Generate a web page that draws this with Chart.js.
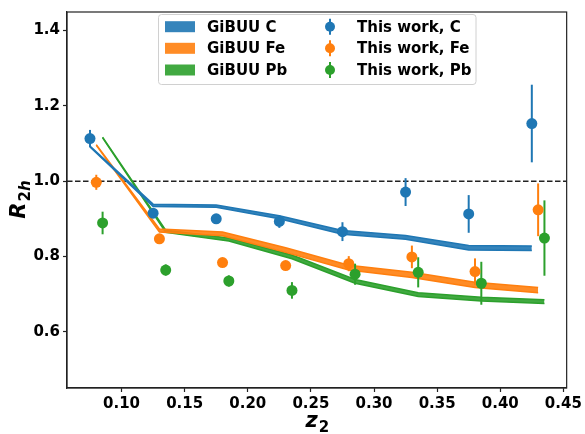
<!DOCTYPE html>
<html>
<head>
<meta charset="utf-8">
<script src="https://cdn.jsdelivr.net/npm/chart.js@4.4.1/dist/chart.umd.min.js"></script>
<style>
  body { margin: 0; background: #fff; }
</style>
</head>
<body>
<canvas id="r2h" width="585" height="434"></canvas>
<script>
// measured points (this work), x positions shifted a bit per target
const zC  = [0.075, 0.125, 0.175, 0.225, 0.275, 0.325, 0.375, 0.425];
const zFe = [0.080, 0.130, 0.180, 0.230, 0.280, 0.330, 0.380, 0.430];
const zPb = [0.085, 0.135, 0.185, 0.235, 0.285, 0.335, 0.385, 0.435];

const rC    = [1.113, 0.915, 0.900, 0.893, 0.866, 0.971, 0.913, 1.153];
const errC  = [0.023, 0.010, 0.010, 0.017, 0.025, 0.037, 0.050, 0.103];
const rFe   = [0.997, 0.847, 0.784, 0.776, 0.781, 0.799, 0.760, 0.924];
const errFe = [0.020, 0.008, 0.008, 0.008, 0.020, 0.030, 0.035, 0.070];
const rPb   = [0.889, 0.764, 0.735, 0.710, 0.753, 0.758, 0.729, 0.849];
const errPb = [0.030, 0.015, 0.015, 0.022, 0.028, 0.040, 0.057, 0.100];

// GiBUU bands (lower / upper edge)
const gibuuCLow   = [1.091, 0.933, 0.931, 0.900, 0.859, 0.846, 0.817, 0.816];
const gibuuCHigh  = [1.093, 0.939, 0.937, 0.908, 0.869, 0.856, 0.829, 0.828];
const gibuuFeLow  = [1.095, 0.865, 0.855, 0.811, 0.764, 0.744, 0.718, 0.704];
const gibuuFeHigh = [1.097, 0.873, 0.865, 0.823, 0.777, 0.758, 0.732, 0.718];
const gibuuPbLow  = [1.115, 0.864, 0.841, 0.794, 0.729, 0.694, 0.682, 0.675];
const gibuuPbHigh = [1.117, 0.870, 0.849, 0.804, 0.739, 0.704, 0.692, 0.685];

const xTicks = [0.10, 0.15, 0.20, 0.25, 0.30, 0.35, 0.40, 0.45];
const yTicks = [0.6, 0.8, 1.0, 1.2, 1.4];

const BLUE = '#1f77b4', ORANGE = '#ff7f0e', GREEN = '#2ca02c';
const FONT = 'DejaVu Sans';

Chart.defaults.font.family = FONT;

function pts(xs, ys) {
  return xs.map((x, i) => ({ x: x, y: ys[i] }));
}

function band(label, xs, low, high, color, fillColor) {
  return [
    { label: label + ' low', data: pts(xs, low), borderColor: color, borderWidth: 1.5,
      pointRadius: 0, fill: false, order: 2 },
    { label: label, data: pts(xs, high), borderColor: color, borderWidth: 1.5,
      pointRadius: 0, fill: '-1', backgroundColor: fillColor, order: 2 }
  ];
}

function points(label, xs, ys, err, color) {
  return { label: label, data: pts(xs, ys), err: err, showLine: false,
    borderColor: color, backgroundColor: color, pointRadius: 5.5,
    pointBorderWidth: 0, order: 0 };
}

// vertical error bars, drawn just before their points
const errorBars = {
  id: 'errorBars',
  beforeDatasetDraw(chart, args) {
    const ds = chart.data.datasets[args.index];
    if (!ds.err) return;
    const { ctx, scales: { x, y } } = chart;
    ctx.save();
    ctx.strokeStyle = ds.borderColor;
    ctx.lineWidth = 2;
    ds.data.forEach((p, i) => {
      const px = x.getPixelForValue(p.x);
      ctx.beginPath();
      ctx.moveTo(px, y.getPixelForValue(p.y - ds.err[i]));
      ctx.lineTo(px, y.getPixelForValue(p.y + ds.err[i]));
      ctx.stroke();
    });
    ctx.restore();
  }
};

// dashed reference line at 1
const unityLine = {
  id: 'unityLine',
  beforeDatasetsDraw(chart) {
    const { ctx, chartArea: a, scales: { y } } = chart;
    const py = y.getPixelForValue(1.0);
    ctx.save();
    ctx.strokeStyle = '#222';
    ctx.lineWidth = 1.5;
    ctx.setLineDash([5.5, 2.5]);
    ctx.beginPath();
    ctx.moveTo(a.left, py);
    ctx.lineTo(a.right, py);
    ctx.stroke();
    ctx.restore();
  }
};

// frame, axis titles and the two-column legend
const decorations = {
  id: 'decorations',
  afterDraw(chart) {
    const { ctx, chartArea: a } = chart;
    ctx.save();
    ctx.strokeStyle = '#222';
    ctx.lineWidth = 1.2;
    ctx.strokeRect(a.left, a.top, a.right - a.left, a.bottom - a.top);

    // x title: z_2
    ctx.fillStyle = '#000';
    ctx.textBaseline = 'alphabetic';
    ctx.font = 'italic bold 21px ' + FONT;
    const wz = ctx.measureText('z').width;
    ctx.font = 'bold 15px ' + FONT;
    const w2 = ctx.measureText('2').width;
    let x0 = (a.left + a.right) / 2 - (wz + w2) / 2;
    ctx.font = 'italic bold 21px ' + FONT;
    ctx.fillText('z', x0, 427);
    ctx.font = 'bold 15px ' + FONT;
    ctx.fillText('2', x0 + wz + 1, 432);

    // y title: R_{2h}
    ctx.save();
    ctx.translate(25, (a.top + a.bottom) / 2);
    ctx.rotate(-Math.PI / 2);
    ctx.font = 'italic bold 21px ' + FONT;
    const wR = ctx.measureText('R').width;
    ctx.font = 'bold 15px ' + FONT;
    const wd = ctx.measureText('2').width;
    ctx.font = 'italic bold 15px ' + FONT;
    const wh = ctx.measureText('h').width;
    x0 = -(wR + wd + wh) / 2;
    ctx.font = 'italic bold 21px ' + FONT;
    ctx.fillText('R', x0, 0);
    ctx.font = 'bold 15px ' + FONT;
    ctx.fillText('2', x0 + wR + 1, 5);
    ctx.font = 'italic bold 15px ' + FONT;
    ctx.fillText('h', x0 + wR + wd + 1, 5);
    ctx.restore();

    // legend
    const lx = 158.5, ly = 14.5, lw = 317.5, lh = 70;
    ctx.beginPath();
    ctx.roundRect(lx, ly, lw, lh, 3);
    ctx.fillStyle = 'rgba(255,255,255,0.8)';
    ctx.fill();
    ctx.strokeStyle = '#d0d0d0';
    ctx.lineWidth = 1;
    ctx.stroke();

    const rows = [26.7, 48.3, 70];
    const names = ['C', 'Fe', 'Pb'];
    const cols = [BLUE, ORANGE, GREEN];
    ctx.font = 'bold 15px ' + FONT;
    ctx.textBaseline = 'middle';
    rows.forEach((ry, i) => {
      ctx.fillStyle = cols[i];
      ctx.globalAlpha = 0.9;
      ctx.fillRect(165, ry - 5.5, 30, 11);
      ctx.globalAlpha = 1;
      ctx.strokeStyle = cols[i];
      ctx.lineWidth = 2;
      ctx.beginPath();
      ctx.moveTo(330, ry - 8);
      ctx.lineTo(330, ry + 8);
      ctx.stroke();
      ctx.beginPath();
      ctx.arc(330, ry, 5, 0, Math.PI * 2);
      ctx.fill();
      ctx.fillStyle = '#000';
      ctx.fillText('GiBUU ' + names[i], 207, ry + 1);
      ctx.fillText('This work, ' + names[i], 357, ry + 1);
    });
    ctx.restore();
  }
};

new Chart(document.getElementById('r2h').getContext('2d'), {
  type: 'line',
  data: {
    datasets: [
      points('This work, C', zC, rC, errC, BLUE),
      points('This work, Fe', zFe, rFe, errFe, ORANGE),
      points('This work, Pb', zPb, rPb, errPb, GREEN),
      ...band('GiBUU C', zC, gibuuCLow, gibuuCHigh, BLUE, 'rgba(31,119,180,0.9)'),
      ...band('GiBUU Fe', zFe, gibuuFeLow, gibuuFeHigh, ORANGE, 'rgba(255,127,14,0.9)'),
      ...band('GiBUU Pb', zPb, gibuuPbLow, gibuuPbHigh, GREEN, 'rgba(44,160,44,0.9)')
    ]
  },
  options: {
    responsive: false,
    animation: false,
    layout: { padding: { left: 0, right: 18, top: 7, bottom: 0 } },
    plugins: {
      legend: { display: false },
      tooltip: { enabled: false }
    },
    scales: {
      x: {
        type: 'linear',
        min: 0.0568,
        max: 0.4526,
        afterFit: s => { s.height = 46; },
        afterBuildTicks: s => { s.ticks = xTicks.map(v => ({ value: v })); },
        grid: { drawOnChartArea: false, tickLength: 4, tickColor: '#222', tickWidth: 1.2 },
        border: { color: '#222', width: 1.2 },
        ticks: {
          color: '#000', padding: 3, maxRotation: 0,
          font: { size: 15, weight: 'bold' },
          callback: v => v.toFixed(2)
        }
      },
      y: {
        type: 'linear',
        min: 0.451,
        max: 1.449,
        afterFit: s => { s.width = 67; },
        afterBuildTicks: s => { s.ticks = yTicks.map(v => ({ value: v })); },
        grid: { drawOnChartArea: false, tickLength: 4, tickColor: '#222', tickWidth: 1.2 },
        border: { color: '#222', width: 1.2 },
        ticks: {
          color: '#000', padding: 3,
          font: { size: 15, weight: 'bold' },
          callback: v => v.toFixed(1)
        }
      }
    }
  },
  plugins: [errorBars, unityLine, decorations]
});
</script>
</body>
</html>
